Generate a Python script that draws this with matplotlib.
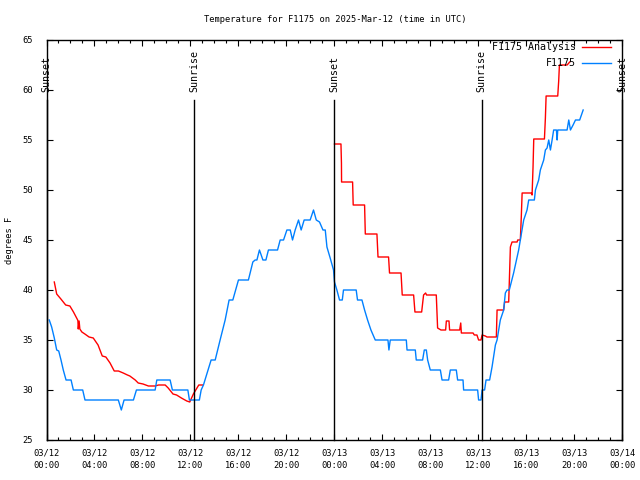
import matplotlib
matplotlib.use("Agg")
import matplotlib.pyplot as plt

# ---- data (hours since 03/12 00:00 UTC) ----
analysis_t1 = [0.65, 0.85, 1.2, 1.6, 1.95, 2.25, 2.6, 2.62, 2.65, 2.72, 2.78, 2.95, 3.2, 3.55, 3.9,
               4.3, 4.65, 4.95, 5.3, 5.65, 6.0, 6.4, 6.75, 6.95, 7.4, 7.65, 8.05, 8.5, 9.05,
               9.35, 9.9, 10.15, 10.55, 10.85, 11.25, 11.7, 11.95, 12.25, 12.7, 13.0]
analysis_v1 = [40.8, 39.6, 39.1, 38.5, 38.4, 37.8, 37.0, 36.9, 36.1, 36.9, 36.1, 35.8, 35.6, 35.3, 35.2,
               34.5, 33.4, 33.3, 32.7, 31.9, 31.9, 31.7, 31.5, 31.4, 31.0, 30.7, 30.6, 30.4, 30.4,
               30.5, 30.5, 30.2, 29.6, 29.5, 29.2, 28.9, 28.8, 29.6, 30.5, 30.5]

analysis_t2 = [24.02, 24.56, 24.6, 24.61, 25.53, 25.58, 26.53, 26.59, 27.56, 27.65, 28.53, 28.61,
               29.57, 29.67, 30.62, 30.73, 31.29, 31.45, 31.62, 31.7, 32.51, 32.62, 32.9, 33.29,
               33.35, 33.57, 33.62, 34.46, 34.55, 34.6, 35.58, 35.68, 35.9, 36.04, 36.24, 36.33,
               36.6, 36.74, 37.52, 37.58, 38.13, 38.21, 38.55, 38.69, 38.83, 39.25, 39.3, 39.52,
               39.6, 39.67, 40.42, 40.5, 40.58, 40.64, 41.53, 41.61, 41.67, 42.64, 42.72, 42.78,
               43.42, 43.64]
analysis_v2 = [54.6, 54.6, 52.7, 50.8, 50.8, 48.5, 48.5, 45.6, 45.6, 43.3, 43.3, 41.7,
               41.7, 39.5, 39.5, 37.8, 37.8, 39.5, 39.7, 39.5, 39.5, 36.2, 36.0, 36.0,
               36.9, 36.9, 36.0, 36.0, 36.7, 35.7, 35.7, 35.5, 35.5, 35.0, 35.0, 35.5,
               35.4, 35.3, 35.3, 38.0, 38.0, 38.8, 38.8, 44.3, 44.8, 44.8, 45.0, 45.0,
               47.3, 49.7, 49.7, 49.5, 52.3, 55.1, 55.1, 57.2, 59.4, 59.4, 60.9, 62.5,
               62.5, 62.8]

obs_t = [0.23, 0.43, 0.65, 0.85, 1.02, 1.21, 1.4, 1.63, 2.05, 2.24, 3.02, 3.21, 5.99, 6.24, 6.47,
         7.25, 7.5, 9.06, 9.2, 10.31, 10.5, 11.79, 11.92, 12.75, 12.9, 13.09, 13.73, 14.07, 14.48,
         14.9, 15.23, 15.54, 16.01, 16.84, 17.21, 17.4, 17.55, 17.76, 18.05, 18.3, 18.51, 19.27,
         19.49, 19.77, 20.05, 20.33, 20.52, 20.74, 21.02, 21.24, 21.49, 21.99, 22.27, 22.5, 22.77,
         23.06, 23.25, 23.39, 23.66, 23.94, 24.02, 24.22, 24.44, 24.67, 24.77, 25.83, 25.94, 26.31,
         26.53, 26.78, 27.06, 27.42, 28.48, 28.56, 28.67, 30.01, 30.07, 30.76, 30.84, 31.37, 31.51,
         31.68, 31.79, 32.01, 32.85, 32.99, 33.54, 33.68, 34.18, 34.29, 34.74, 34.79, 35.96, 36.04,
         36.24, 36.33, 36.54, 36.66, 36.96, 37.16, 37.44, 37.58, 37.85, 38.13, 38.27, 38.41, 38.6,
         38.96, 39.38, 39.52, 39.8, 40.08, 40.22, 40.69, 40.78, 41.05, 41.19, 41.47, 41.61, 41.75,
         41.89, 42.03, 42.17, 42.3, 42.53, 42.59, 42.64, 43.42, 43.56, 43.7, 43.92, 44.12, 44.47,
         44.76]
obs_v = [37.0, 36.3, 35.2, 34.0, 33.9, 33.0, 32.0, 31.0, 31.0, 30.0, 30.0, 29.0, 29.0, 28.0, 29.0,
         29.0, 30.0, 30.0, 31.0, 31.0, 30.0, 30.0, 29.0, 29.0, 30.0, 30.5, 33.0, 33.0, 35.0,
         37.0, 39.0, 39.0, 41.0, 41.0, 42.8, 43.0, 43.0, 44.0, 43.0, 43.0, 44.0, 44.0,
         45.0, 45.0, 46.0, 46.0, 45.0, 46.0, 47.0, 46.0, 47.0, 47.0, 48.0, 47.0, 46.8,
         46.0, 46.0, 44.3, 43.2, 42.0, 40.8, 40.0, 39.0, 39.0, 40.0, 40.0, 39.0, 39.0,
         38.0, 37.0, 36.0, 35.0, 35.0, 34.0, 35.0, 35.0, 34.0, 34.0, 33.0, 33.0, 34.0,
         34.0, 33.0, 32.0, 32.0, 31.0, 31.0, 32.0, 32.0, 31.0, 31.0, 30.0, 30.0, 29.0,
         29.0, 30.0, 30.0, 31.0, 31.0, 32.3, 34.5, 35.0, 37.0, 38.0, 39.7, 40.0, 40.0,
         41.7, 44.0, 45.0, 47.0, 48.0, 49.0, 49.0, 50.0, 51.0, 52.0, 53.0, 54.0, 54.2,
         55.0, 54.0, 55.0, 56.0, 56.0, 55.0, 56.0, 56.0, 57.0, 56.0, 56.5, 57.0, 57.0,
         58.0]

sun_times = [0.0, 12.33, 24.02, 36.3, 48.0]
sun_labels = ["Sunset", "Sunrise", "Sunset", "Sunrise", "Sunset"]

xtick_pos = [0, 4, 8, 12, 16, 20, 24, 28, 32, 36, 40, 44, 48]
xtick_labels = ["03/12\n00:00", "03/12\n04:00", "03/12\n08:00", "03/12\n12:00", "03/12\n16:00",
                "03/12\n20:00", "03/13\n00:00", "03/13\n04:00", "03/13\n08:00", "03/13\n12:00",
                "03/13\n16:00", "03/13\n20:00", "03/14\n00:00"]
yticks = [25, 30, 35, 40, 45, 50, 55, 60, 65]

title = "Temperature for F1175 on 2025-Mar-12 (time in UTC)"

plt.rcParams['font.family'] = ['DejaVu Sans Mono']
FS = 6.3

fig = plt.figure(figsize=(6.4, 4.8), dpi=100)
ax = fig.add_axes([46.5/640, 1-440/480, (622-46.5)/640, 400/480])

red = '#ff0000'
blue = '#0080ff'
ax.plot(analysis_t1, analysis_v1, color=red, lw=1.0, label="F1175 Analysis")
ax.plot(analysis_t2, analysis_v2, color=red, lw=1.0)
ax.plot(obs_t, obs_v, color=blue, lw=1.0, label="F1175")

for t, lab in zip(sun_times, sun_labels):
    ax.plot([t, t], [25, 59], color='black', lw=1.0, clip_on=False)
    ax.text(t, 59.8, lab, rotation=90, ha='center', va='bottom', fontsize=7.2, clip_on=False)

ax.set_xlim(0, 48)
ax.set_ylim(25, 65)
ax.set_xticks(xtick_pos)
ax.set_xticklabels(xtick_labels, fontsize=FS, linespacing=1.5)
ax.set_xticks(range(0, 49), minor=True)
ax.set_yticks(yticks)
ax.set_yticklabels([str(y) for y in yticks], fontsize=FS)
ax.tick_params(which='major', direction='in', length=4, width=0.8, top=True, right=True)
ax.tick_params(which='minor', direction='in', length=2.5, width=0.8, top=True, right=False)
ax.tick_params(axis='y', which='minor', left=False, right=False)
ax.tick_params(axis='x', pad=6)
ax.tick_params(axis='y', pad=10)
for s in ax.spines.values():
    s.set_linewidth(1.0)

fig.text(10/640, 1-240/480, "degrees F", rotation=90, ha='center', va='center', fontsize=FS)
fig.text(335/640, 1-20/480, title, ha='center', va='center', fontsize=FS)

leg = ax.legend(loc='upper right', bbox_to_anchor=(611/640, 1-42/480),
                bbox_transform=fig.transFigure, frameon=False, markerfirst=False,
                fontsize=7.2, handlelength=2.9, handletextpad=0.6, labelspacing=0.6,
                borderaxespad=0, borderpad=0)

fig.savefig("out.png", dpi=100)
